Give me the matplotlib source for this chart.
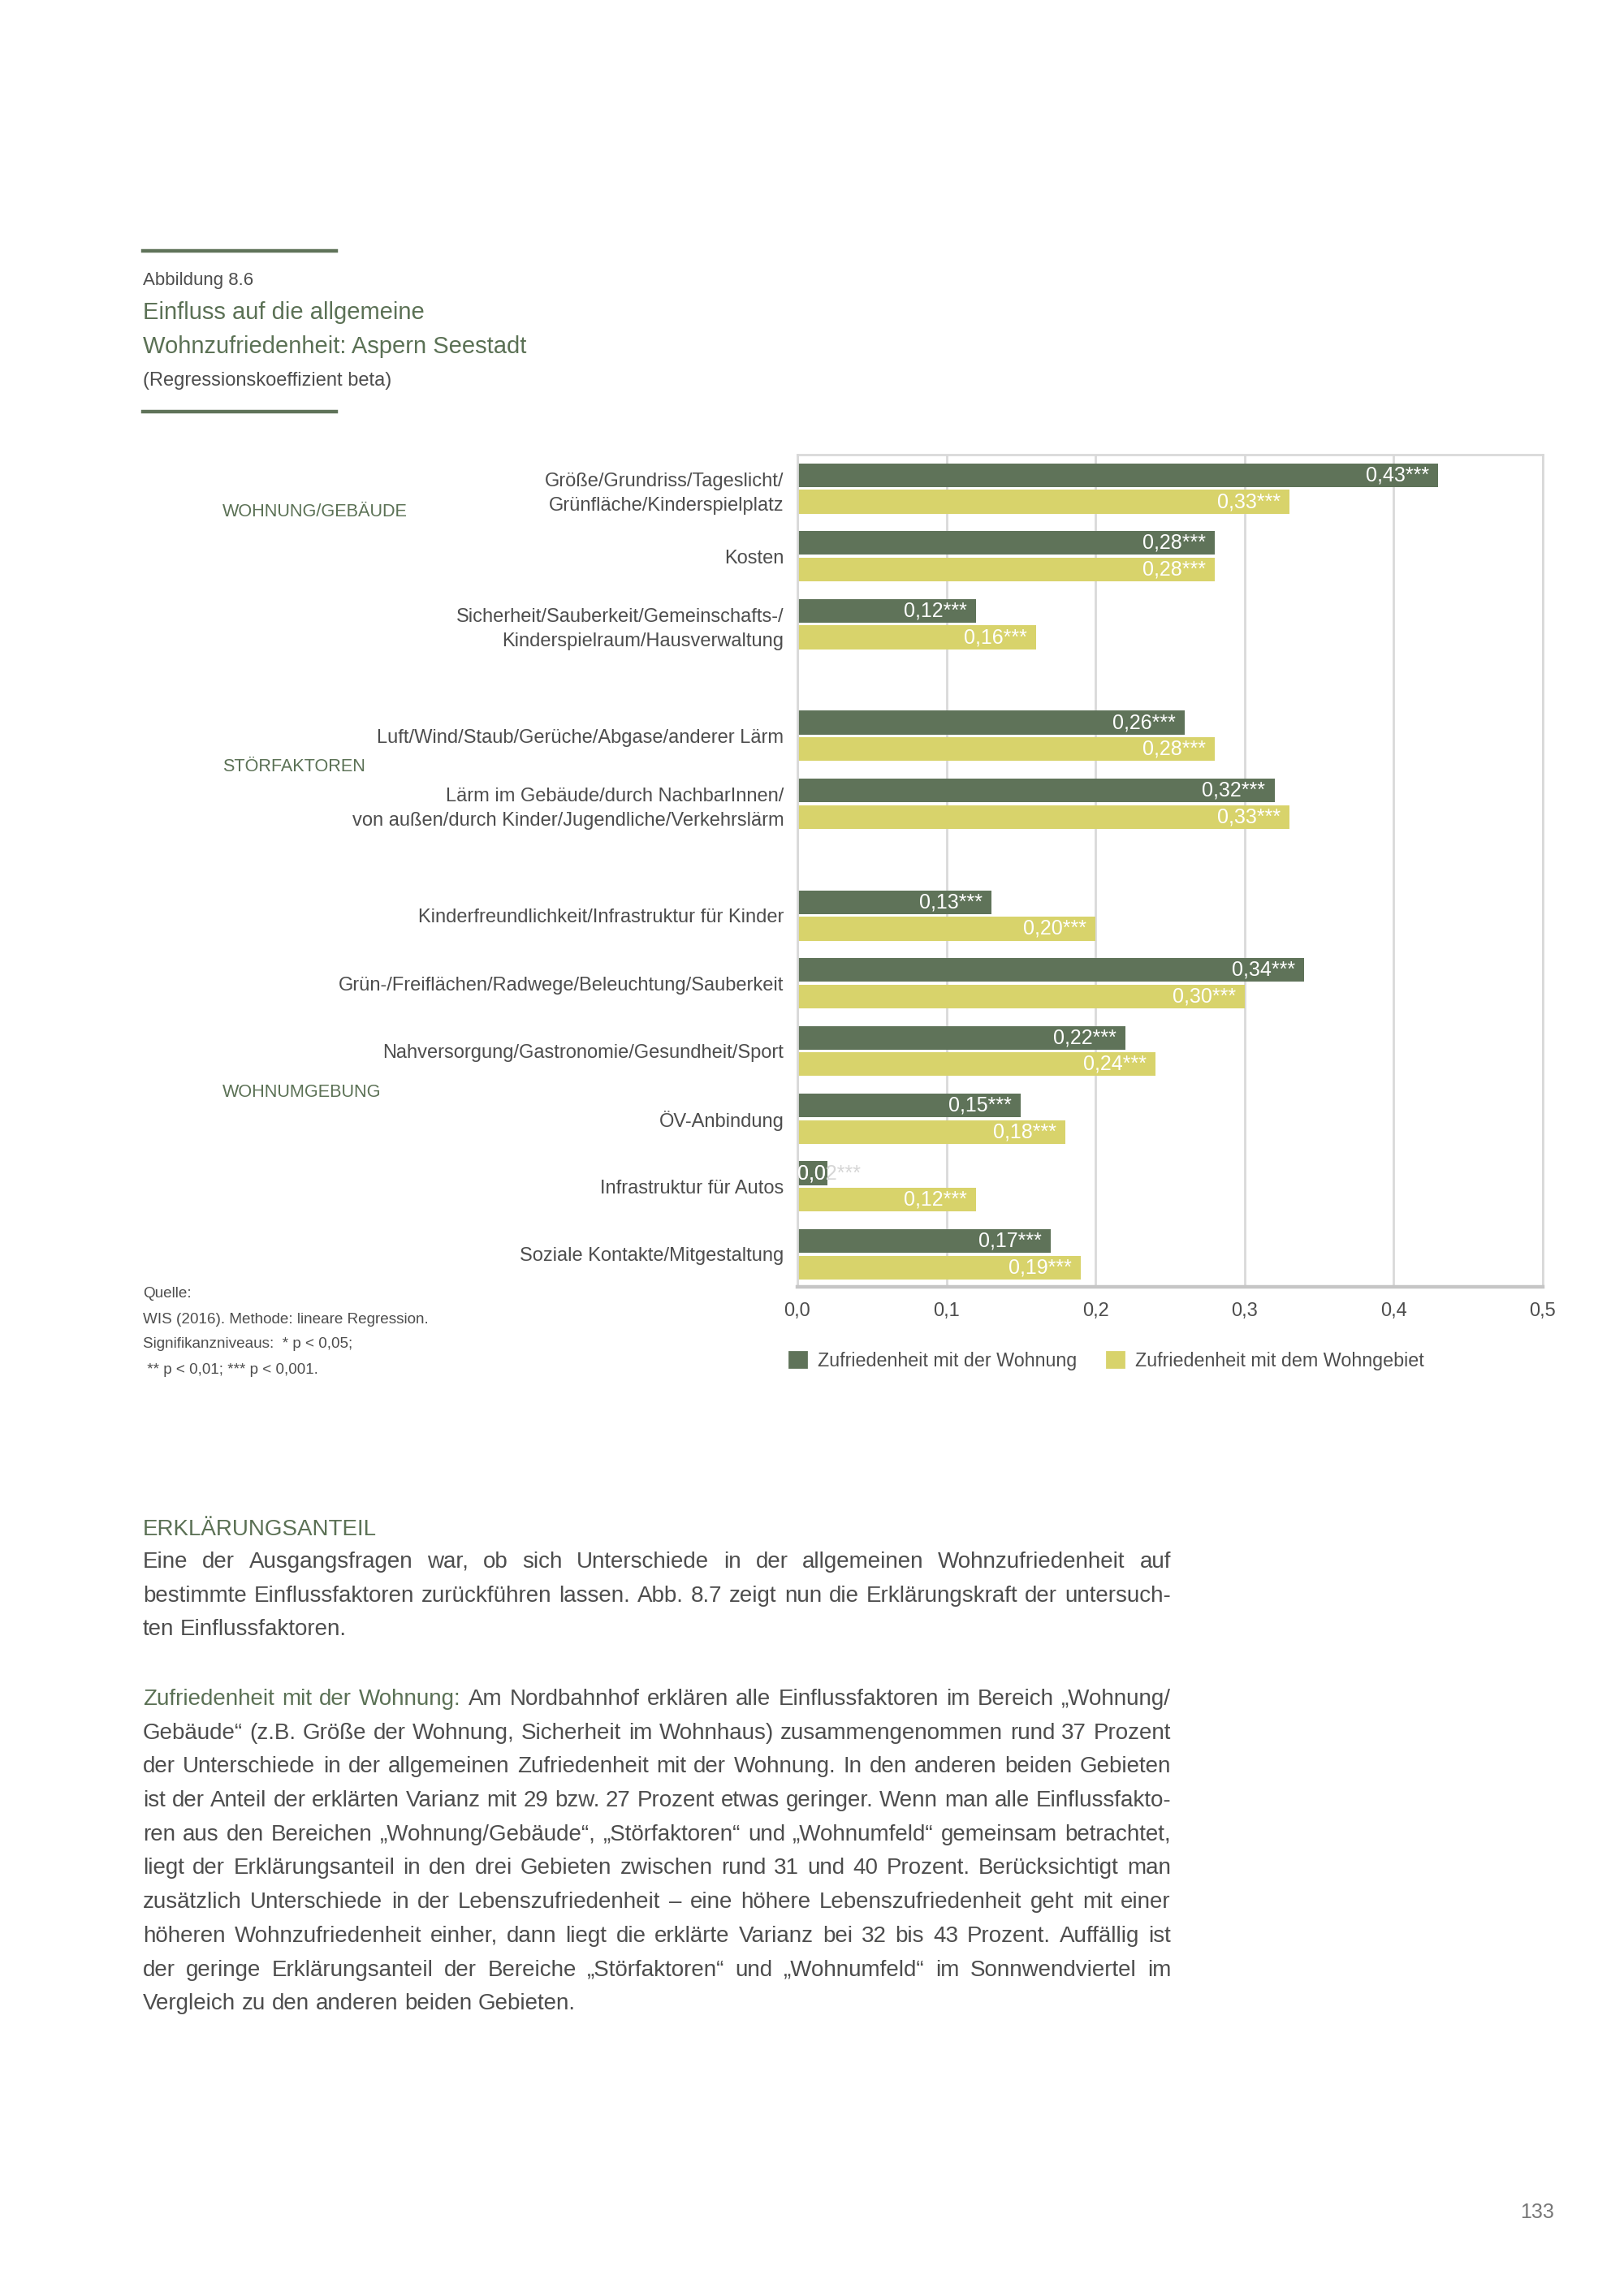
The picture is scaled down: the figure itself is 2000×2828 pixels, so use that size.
import numpy as np
import matplotlib
matplotlib.use('Agg')
import matplotlib.pyplot as plt
from matplotlib import font_manager
from matplotlib.lines import Line2D
from matplotlib.patches import Patch
import matplotlib.transforms as mtransforms

# Schrift: schmale Sans, falls vorhanden
vorhanden = {f.name for f in font_manager.fontManager.ttflist}
schrift = 'Liberation Sans Narrow' if 'Liberation Sans Narrow' in vorhanden else 'Liberation Sans'
plt.rcParams['font.family'] = [schrift, 'DejaVu Sans']

# Daten
kategorien = ['Größe/Grundriss/Tageslicht/\nGrünfläche/Kinderspielplatz',
              'Kosten',
              'Sicherheit/Sauberkeit/Gemeinschafts-/\nKinderspielraum/Hausverwaltung',
              'Luft/Wind/Staub/Gerüche/Abgase/anderer Lärm',
              'Lärm im Gebäude/durch NachbarInnen/\nvon außen/durch Kinder/Jugendliche/Verkehrslärm',
              'Kinderfreundlichkeit/Infrastruktur für Kinder',
              'Grün-/Freiflächen/Radwege/Beleuchtung/Sauberkeit',
              'Nahversorgung/Gastronomie/Gesundheit/Sport',
              'ÖV-Anbindung',
              'Infrastruktur für Autos',
              'Soziale Kontakte/Mitgestaltung']
gruppe = [0, 0, 0, 1, 1, 2, 2, 2, 2, 2, 2]
gruppen_namen = ['WOHNUNG/GEBÄUDE', 'STÖRFAKTOREN', 'WOHNUMGEBUNG']
wohnung = [0.43, 0.28, 0.12, 0.26, 0.32, 0.13, 0.34, 0.22, 0.15, 0.02, 0.17]
wohngebiet = [0.33, 0.28, 0.16, 0.28, 0.33, 0.20, 0.30, 0.24, 0.18, 0.12, 0.19]
sig_wohnung = ['***'] * 11
sig_wohngebiet = ['***'] * 11
serien = ['Zufriedenheit mit der Wohnung', 'Zufriedenheit mit dem Wohngebiet']

absatz1 = [
    'Eine der Ausgangsfragen war, ob sich Unterschiede in der allgemeinen Wohnzufriedenheit auf',
    'bestimmte Einflussfaktoren zurückführen lassen. Abb. 8.7 zeigt nun die Erklärungskraft der untersuch-',
    'ten Einflussfaktoren.',
]
absatz2 = [
    'Zufriedenheit mit der Wohnung: Am Nordbahnhof erklären alle Einflussfaktoren im Bereich „Wohnung/',
    'Gebäude“ (z.B. Größe der Wohnung, Sicherheit im Wohnhaus) zusammengenommen rund 37 Prozent',
    'der Unterschiede in der allgemeinen Zufriedenheit mit der Wohnung. In den anderen beiden Gebieten',
    'ist der Anteil der erklärten Varianz mit 29 bzw. 27 Prozent etwas geringer. Wenn man alle Einflussfakto-',
    'ren aus den Bereichen „Wohnung/Gebäude“, „Störfaktoren“ und „Wohnumfeld“ gemeinsam betrachtet,',
    'liegt der Erklärungsanteil in den drei Gebieten zwischen rund 31 und 40 Prozent. Berücksichtigt man',
    'zusätzlich Unterschiede in der Lebenszufriedenheit – eine höhere Lebenszufriedenheit geht mit einer',
    'höheren Wohnzufriedenheit einher, dann liegt die erklärte Varianz bei 32 bis 43 Prozent. Auffällig ist',
    'der geringe Erklärungsanteil der Bereiche „Störfaktoren“ und „Wohnumfeld“ im Sonnwendviertel im',
    'Vergleich zu den anderen beiden Gebieten.',
]

# Farben
dunkel = '#5f7359'
hell = '#d8d36b'
gruen_text = '#5b7155'
grau_text = '#4d4d4d'

W, H = 2000, 2828
fig = plt.figure(figsize=(10, 14.14), dpi=200)

def fx(px):
    return px / W

def fy(py):
    return 1 - py / H

# Kopf
for yy in (309, 507):
    fig.add_artist(Line2D([fx(176), fx(414)], [fy(yy), fy(yy)], color=dunkel, lw=1.6,
                          transform=fig.transFigure))
fig.text(fx(176), fy(345), 'Abbildung 8.6', fontsize=8, color=grau_text, va='center')
fig.text(fx(176), fy(385), 'Einfluss auf die allgemeine', fontsize=10.5, color=gruen_text, va='center')
fig.text(fx(176), fy(427), 'Wohnzufriedenheit: Aspern Seestadt', fontsize=10.5, color=gruen_text, va='center')
fig.text(fx(176), fy(469), '(Regressionskoeffizient beta)', fontsize=8.5, color=grau_text, va='center')

# Diagramm
ax = fig.add_axes([fx(982), fy(1585), fx(1900) - fx(982), fy(560) - fy(1585)])
gap = 0.65
pos = np.arange(len(kategorien)) + np.array(gruppe) * gap
dy, bh = 0.196, 0.35
b1 = ax.barh(pos - dy, wohnung, height=bh, color=dunkel, zorder=2)
b2 = ax.barh(pos + dy, wohngebiet, height=bh, color=hell, zorder=2)

ax.set_xlim(0, 0.5)
ax.set_ylim(pos[-1] + 0.48, -0.5)
ax.set_xticks(np.arange(0, 0.51, 0.1))
ax.set_xticklabels([f'{v:.1f}'.replace('.', ',') for v in np.arange(0, 0.51, 0.1)])
ax.set_yticks(pos)
ax.set_yticklabels(kategorien, linespacing=1.45)
ax.tick_params(axis='both', length=0, labelsize=8.5, labelcolor=grau_text)
ax.tick_params(axis='x', pad=7)
ax.tick_params(axis='y', pad=6)
ax.xaxis.grid(True, color='#d9d9d9', lw=1)
ax.set_axisbelow(True)
for s in ax.spines.values():
    s.set_color('#d9d9d9')
    s.set_linewidth(1)
ax.spines['bottom'].set_color('#c6c6c6')
ax.spines['bottom'].set_linewidth(1.6)

# Wertbeschriftungen
def beschrift(bars, werte, sig):
    for b, v, s in zip(bars, werte, sig):
        txt = f'{v:.2f}'.replace('.', ',') + s
        yc = b.get_y() + b.get_height() / 2
        if v < 0.05:
            ax.annotate(txt, (0, yc), xytext=(0, 0), textcoords='offset points',
                        ha='left', va='center', fontsize=9, color='#d6d6d6', zorder=3)
            t = ax.annotate(txt, (0, yc), xytext=(0, 0), textcoords='offset points',
                            ha='left', va='center', fontsize=9, color='white', zorder=4)
            t.set_clip_path(b)
        else:
            ax.annotate(txt, (v, yc), xytext=(-4, 0), textcoords='offset points',
                        ha='right', va='center', fontsize=9, color='white', zorder=3)

beschrift(b1, wohnung, sig_wohnung)
beschrift(b2, wohngebiet, sig_wohngebiet)

# Gruppenbeschriftungen
gruppen_y = [0.35, 4.11, 8.91]
trans = mtransforms.blended_transform_factory(fig.transFigure, ax.transData)
for name, gy in zip(gruppen_namen, gruppen_y):
    ax.text(fx(274), gy, name, transform=trans, fontsize=7.8, color=gruen_text,
            ha='left', va='center')

# Legende
fig.legend(handles=[Patch(color=dunkel, label=serien[0]), Patch(color=hell, label=serien[1])],
           loc='center', bbox_to_anchor=(fx(1363), fy(1676)), ncol=2, frameon=False,
           handlelength=0.9, handleheight=0.9, handletextpad=0.6, columnspacing=1.6,
           fontsize=8.4, labelcolor=grau_text)

# Quelle
quelle = ['Quelle:', 'WIS (2016). Methode: lineare Regression.',
          'Signifikanzniveaus:  * p < 0,05;', ' ** p < 0,01; *** p < 0,001.']
for i, z in enumerate(quelle):
    fig.text(fx(176), fy(1594 + i * 31), z, fontsize=6.8, color=grau_text, va='center')

# Fliesstext (Blocksatz)
renderer = fig.canvas.get_renderer()
x0, x1 = 176, 1442

def breite(s, size=10):
    t = fig.text(0, 0, s, fontsize=size)
    w = t.get_window_extent(renderer).width
    t.remove()
    return w

leer = breite('a a') - 2 * breite('a')

def zeile(text, py, blocksatz, gruen_woerter=0):
    woerter = text.split(' ')
    arts = []
    for i, w in enumerate(woerter):
        farbe = gruen_text if i < gruen_woerter else grau_text
        arts.append(fig.text(0, fy(py), w, fontsize=10, color=farbe, va='center'))
    breiten = [a.get_window_extent(renderer).width for a in arts]
    if blocksatz and len(woerter) > 1:
        luecke = (x1 - x0 - sum(breiten)) / (len(woerter) - 1)
    else:
        luecke = leer
    x = x0
    for a, bw in zip(arts, breiten):
        a.set_x(fx(x))
        x += bw + luecke

fig.text(fx(176), fy(1884), 'ERKLÄRUNGSANTEIL', fontsize=10, color=gruen_text, va='center')
for i, z in enumerate(absatz1):
    zeile(z, 1924 + i * 41.7, i < len(absatz1) - 1)
for i, z in enumerate(absatz2):
    zeile(z, 2093 + i * 41.7, i < len(absatz2) - 1, gruen_woerter=4 if i == 0 else 0)

fig.text(fx(1893), fy(2725), '133', fontsize=9, color='#777777', ha='center', va='center')

fig.savefig('out.png', dpi=200)
